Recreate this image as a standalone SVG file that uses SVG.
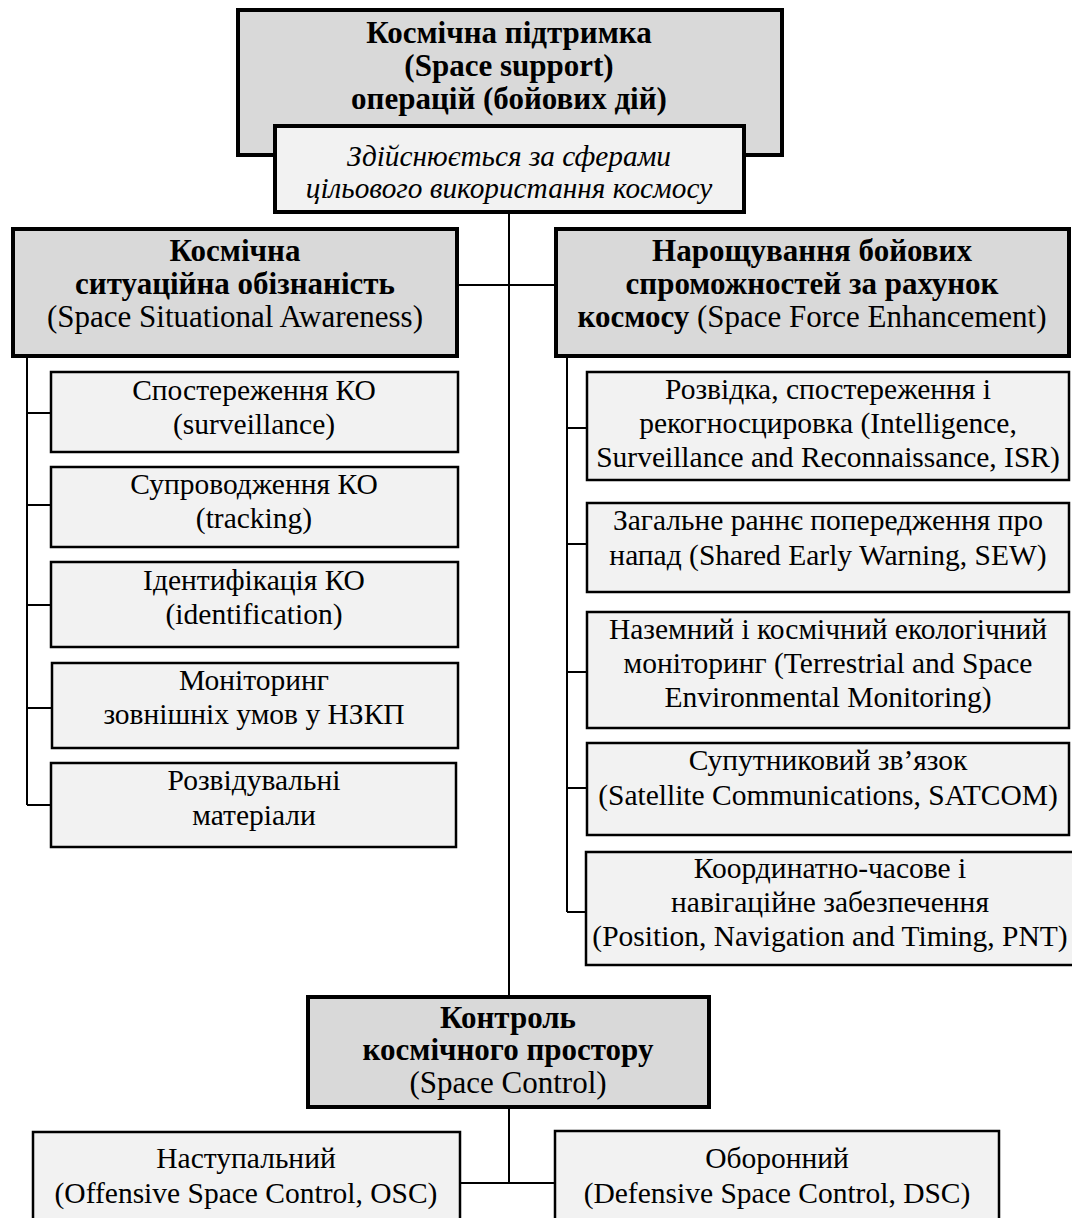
<svg xmlns="http://www.w3.org/2000/svg" width="1072" height="1218" viewBox="0 0 1072 1218">
<style>
text{font-family:"Liberation Serif","Times New Roman",serif;fill:#000;text-anchor:middle;}
.t{font-size:29.5px;}
.h{font-size:31px;}
.it{font-size:29.3px;font-style:italic;}
.b{font-weight:bold;}
.main{fill:#d9d9d9;stroke:#000;stroke-width:4;}
.sub{fill:#f2f2f2;stroke:#000;stroke-width:2.5;}
.note{fill:#f2f2f2;stroke:#000;stroke-width:4;}
.c{fill:none;stroke:#000;stroke-width:2;}
</style>
<rect width="1072" height="1218" fill="#fff"/>
<g id="connectors">
<path class="c" d="M509 213V996M457 285H555M509 1108V1183M460 1183H555"/>
<path class="c" d="M27 357V805M27 413H51M27 505H51M27 605H51M27 708H51M27 805H51"/>
<path class="c" d="M567 357V912M567 428H587M567 544H587M567 672H587M567 788H587M567 912H586"/>
</g>
<g id="space-support">
<rect class="main" x="238" y="10" width="544" height="145"/>
<text class="h b" x="509" y="43">Космічна підтримка</text>
<text class="h b" x="509" y="76">(Space support)</text>
<text class="h b" x="509" y="109">операцій (бойових дій)</text>
</g>
<g id="spheres-note">
<rect class="note" x="275" y="126" width="469" height="86"/>
<text class="it" x="509" y="166">Здійснюється за сферами</text>
<text class="it" x="509" y="198">цільового використання космосу</text>
</g>
<g id="ssa">
<rect class="main" x="13" y="229" width="444" height="127"/>
<text class="h b" x="235" y="261">Космічна</text>
<text class="h b" x="235" y="294">ситуаційна обізнаність</text>
<text class="h" x="235" y="327">(Space Situational Awareness)</text>
</g>
<g id="ssa-surveillance">
<rect class="sub" x="51" y="372" width="407" height="80"/>
<text class="t" x="254" y="400">Спостереження КО</text>
<text class="t" x="254" y="434">(surveillance)</text>
</g>
<g id="ssa-tracking">
<rect class="sub" x="51" y="467" width="407" height="80"/>
<text class="t" x="254" y="494">Супроводження КО</text>
<text class="t" x="254" y="528">(tracking)</text>
</g>
<g id="ssa-identification">
<rect class="sub" x="51" y="562" width="407" height="85"/>
<text class="t" x="254" y="590">Ідентифікація КО</text>
<text class="t" x="254" y="624">(identification)</text>
</g>
<g id="ssa-monitoring">
<rect class="sub" x="52" y="663" width="406" height="85"/>
<text class="t" x="254" y="690">Моніторинг</text>
<text class="t" x="254" y="724">зовнішніх умов у НЗКП</text>
</g>
<g id="ssa-intel">
<rect class="sub" x="51" y="763" width="405" height="84"/>
<text class="t" x="254" y="790">Розвідувальні</text>
<text class="t" x="254" y="825">матеріали</text>
</g>
<g id="sfe">
<rect class="main" x="556" y="229" width="513" height="127"/>
<text class="h b" x="812" y="261">Нарощування бойових</text>
<text class="h b" x="812" y="294">спроможностей за рахунок</text>
<text class="h" x="812" y="327"><tspan class="b">космосу</tspan> (Space Force Enhancement)</text>
</g>
<g id="sfe-isr">
<rect class="sub" x="587" y="372" width="482" height="108"/>
<text class="t" x="828" y="399">Розвідка, спостереження і</text>
<text class="t" x="828" y="433">рекогносцировка (Intelligence,</text>
<text class="t" x="828" y="467">Surveillance and Reconnaissance, ISR)</text>
</g>
<g id="sfe-sew">
<rect class="sub" x="587" y="503" width="482" height="89"/>
<text class="t" x="828" y="530">Загальне раннє попередження про</text>
<text class="t" x="828" y="565">напад (Shared Early Warning, SEW)</text>
</g>
<g id="sfe-env">
<rect class="sub" x="587" y="612" width="482" height="116"/>
<text class="t" x="828" y="639">Наземний і космічний екологічний</text>
<text class="t" x="828" y="673">моніторинг (Terrestrial and Space</text>
<text class="t" x="828" y="707">Environmental Monitoring)</text>
</g>
<g id="sfe-satcom">
<rect class="sub" x="587" y="743" width="482" height="92"/>
<text class="t" x="828" y="770">Супутниковий зв’язок</text>
<text class="t" x="828" y="805">(Satellite Communications, SATCOM)</text>
</g>
<g id="sfe-pnt">
<rect class="sub" x="586" y="852" width="504" height="113"/>
<text class="t" x="830" y="878">Координатно-часове і</text>
<text class="t" x="830" y="912">навігаційне забезпечення</text>
<text class="t" x="830" y="946">(Position, Navigation and Timing, PNT)</text>
</g>
<g id="space-control">
<rect class="main" x="308" y="997" width="401" height="110"/>
<text class="h b" x="508" y="1028">Контроль</text>
<text class="h b" x="508" y="1060">космічного простору</text>
<text class="h" x="508" y="1093">(Space Control)</text>
</g>
<g id="osc">
<rect class="sub" x="33" y="1132" width="427" height="100"/>
<text class="t" x="246" y="1168">Наступальний</text>
<text class="t" x="246" y="1203">(Offensive Space Control, OSC)</text>
</g>
<g id="dsc">
<rect class="sub" x="555" y="1131" width="444" height="100"/>
<text class="t" x="777" y="1168">Оборонний</text>
<text class="t" x="777" y="1203">(Defensive Space Control, DSC)</text>
</g>
</svg>
